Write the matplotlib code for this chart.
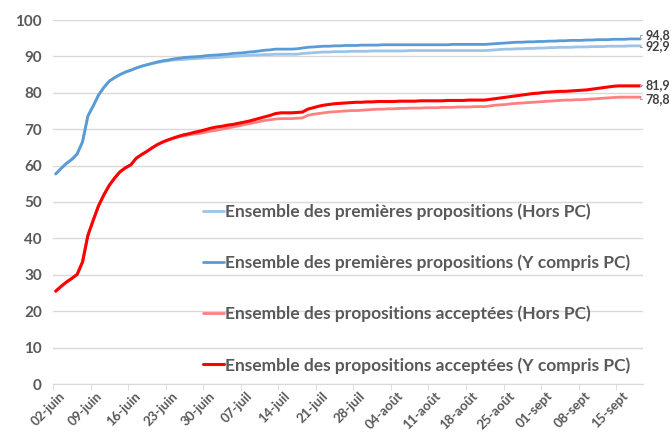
import numpy as np
import matplotlib
matplotlib.use('Agg')
from matplotlib import pyplot as plt
from matplotlib import transforms

# daily values, 02-juin -> 19-sept
premieres_y_compris = [
    57.7, 59.2, 60.6, 61.7, 63.2, 66.5, 73.6, 76.4, 79.4, 81.5,
    83.2, 84.2, 85.0, 85.7, 86.2, 86.8, 87.3, 87.7, 88.1, 88.5,
    88.8, 89.0, 89.3, 89.5, 89.7, 89.8, 89.9, 90.0, 90.2, 90.3,
    90.4, 90.5, 90.6, 90.8, 90.9, 91.0, 91.2, 91.3, 91.5, 91.7,
    91.8, 92.0, 92.0, 92.0, 92.0, 92.1, 92.3, 92.5, 92.6, 92.7,
    92.8, 92.8, 92.9, 92.9, 93.0, 93.0, 93.0, 93.1, 93.1, 93.1,
    93.1, 93.2, 93.2, 93.2, 93.2, 93.2, 93.2, 93.2, 93.2, 93.2,
    93.2, 93.2, 93.2, 93.2, 93.3, 93.3, 93.3, 93.3, 93.3, 93.3,
    93.3, 93.4, 93.5, 93.6, 93.7, 93.8, 93.9, 93.9, 94.0, 94.0,
    94.1, 94.1, 94.2, 94.2, 94.3, 94.3, 94.4, 94.4, 94.4, 94.5,
    94.5, 94.6, 94.6, 94.6, 94.7, 94.7, 94.7, 94.8, 94.8, 94.8,
]
premieres_hors = [
    57.7, 59.2, 60.6, 61.7, 63.2, 66.5, 73.6, 76.4, 79.4, 81.5,
    83.2, 84.2, 85.0, 85.7, 86.2, 86.8, 87.3, 87.7, 88.0, 88.3,
    88.6, 88.8, 89.0, 89.1, 89.2, 89.3, 89.4, 89.5, 89.6, 89.6,
    89.7, 89.8, 89.9, 90.0, 90.1, 90.2, 90.3, 90.4, 90.4, 90.5,
    90.5, 90.6, 90.6, 90.6, 90.6, 90.6, 90.8, 90.9, 91.0, 91.1,
    91.2, 91.2, 91.3, 91.3, 91.3, 91.4, 91.4, 91.4, 91.4, 91.5,
    91.5, 91.5, 91.5, 91.5, 91.5, 91.5, 91.6, 91.6, 91.6, 91.6,
    91.6, 91.6, 91.6, 91.6, 91.6, 91.6, 91.6, 91.6, 91.6, 91.6,
    91.6, 91.7, 91.8, 91.9, 92.0, 92.0, 92.1, 92.1, 92.2, 92.2,
    92.3, 92.3, 92.4, 92.4, 92.5, 92.5, 92.5, 92.6, 92.6, 92.6,
    92.7, 92.7, 92.7, 92.8, 92.8, 92.8, 92.8, 92.9, 92.9, 92.9,
]
acceptees_y_compris = [
    25.5, 26.8, 28.0, 29.0, 30.1, 33.5, 40.8, 45.0, 49.0, 52.0,
    54.6, 56.6, 58.3, 59.4, 60.2, 62.0, 63.0, 63.9, 64.9, 65.8,
    66.5, 67.1, 67.6, 68.1, 68.5, 68.8, 69.2, 69.5, 69.9, 70.3,
    70.6, 70.8, 71.1, 71.3, 71.6, 71.9, 72.2, 72.6, 73.0, 73.4,
    73.8, 74.3, 74.5, 74.5, 74.5, 74.6, 74.7, 75.5, 75.9, 76.3,
    76.6, 76.8, 77.0, 77.1, 77.2, 77.3, 77.4, 77.4, 77.5, 77.5,
    77.6, 77.6, 77.6, 77.6, 77.7, 77.7, 77.7, 77.7, 77.8, 77.8,
    77.8, 77.8, 77.8, 77.9, 77.9, 77.9, 77.9, 78.0, 78.0, 78.0,
    78.0, 78.2, 78.4, 78.6, 78.8, 79.0, 79.2, 79.4, 79.6, 79.8,
    79.9, 80.1, 80.2, 80.3, 80.4, 80.4, 80.5, 80.6, 80.7, 80.8,
    81.0, 81.2, 81.4, 81.6, 81.8, 81.9, 81.9, 81.9, 81.9, 81.9,
]
acceptees_hors = [
    25.5, 26.8, 28.0, 29.0, 30.1, 33.5, 40.8, 45.0, 49.0, 52.0,
    54.6, 56.6, 58.3, 59.4, 60.2, 62.0, 63.0, 63.9, 64.9, 65.8,
    66.5, 67.0, 67.5, 67.9, 68.2, 68.5, 68.7, 68.9, 69.2, 69.5,
    69.7, 70.0, 70.3, 70.6, 70.9, 71.2, 71.5, 71.8, 72.1, 72.4,
    72.6, 72.8, 72.9, 72.9, 72.9, 73.0, 73.1, 73.8, 74.1, 74.3,
    74.5, 74.7, 74.8, 74.9, 75.0, 75.1, 75.1, 75.2, 75.3, 75.4,
    75.5, 75.5, 75.6, 75.6, 75.7, 75.7, 75.8, 75.8, 75.8, 75.9,
    75.9, 75.9, 76.0, 76.0, 76.0, 76.1, 76.1, 76.1, 76.2, 76.2,
    76.2, 76.4, 76.6, 76.7, 76.8, 77.0, 77.1, 77.2, 77.3, 77.4,
    77.5, 77.6, 77.7, 77.8, 77.9, 78.0, 78.0, 78.1, 78.1, 78.2,
    78.3, 78.4, 78.5, 78.6, 78.7, 78.8, 78.8, 78.8, 78.8, 78.8,
]

tick_labels = ['02-juin', '09-juin', '16-juin', '23-juin', '30-juin',
               '07-juil', '14-juil', '21-juil', '28-juil', '04-août',
               '11-août', '18-août', '25-août', '01-sept', '08-sept',
               '15-sept']

series_names = ['Ensemble des premières propositions (Hors PC)',
                'Ensemble des premières propositions (Y compris PC)',
                'Ensemble des propositions acceptées (Hors PC)',
                'Ensemble des propositions acceptées (Y compris PC)']
end_labels = ['92,9', '94,8', '78,8', '81,9']

gray = '#595959'
plt.rcParams['font.family'] = ['Lato', 'DejaVu Sans']

fig = plt.figure(figsize=(6.71, 4.32), dpi=100)
ax = fig.add_axes([53/671, 1 - 384/432, (643 - 53)/671, (384 - 20)/432])

days = np.arange(len(premieres_y_compris))
series = [premieres_hors, premieres_y_compris, acceptees_hors, acceptees_y_compris]
colors = ['#9dc3e6', '#5b9bd5', '#ff8080', '#ff0000']
widths = [2.0, 2.0, 2.0, 2.2]
for vals, c, w, name in zip(series, colors, widths, series_names):
    ax.plot(days, vals, color=c, lw=w, label=name, solid_capstyle='round')

ax.set_xlim(-0.5, len(days) - 0.5)
ax.set_ylim(0, 100)
ax.set_yticks(np.arange(0, 101, 10))
ax.grid(axis='y', color='#d9d9d9', lw=1)
ax.set_axisbelow(True)
for s in ['left', 'right', 'top']:
    ax.spines[s].set_visible(False)
ax.spines['bottom'].set_color('#d9d9d9')
ax.tick_params(axis='y', length=0, pad=8, labelsize=11, labelcolor=gray)

# tick marks on week boundaries, labels a bit to the right
ax.set_xticks(np.arange(len(tick_labels)) * 7 - 0.5, minor=True)
ax.tick_params(axis='x', which='minor', length=4, color='#d9d9d9')
ax.set_xticks(np.arange(len(tick_labels)) * 7)
ax.set_xticklabels(tick_labels, rotation=45, ha='right', rotation_mode='anchor')
ax.tick_params(axis='x', which='major', length=0, labelsize=9.5, labelcolor=gray, pad=4)
shift = transforms.ScaledTranslation(3/100, 0, fig.dpi_scale_trans)
for lab in ax.get_xticklabels():
    lab.set_transform(lab.get_transform() + shift)
for lab in ax.get_xticklabels() + ax.get_yticklabels():
    lab.set_fontweight('bold')

# end labels with small leaders
offsets = [-0.5, 2.5, -1.5, 0.5]
for vals, txt, off in zip(series, end_labels, offsets):
    last = vals[-1]
    ax.annotate(txt, xy=(days[-1], last), xytext=(3.5, off), textcoords='offset points',
                va='center', ha='left', fontsize=9, fontweight='bold', color='#404040',
                annotation_clip=False,
                arrowprops=dict(arrowstyle='-', color='#a6a6a6', lw=0.8,
                                shrinkA=0, shrinkB=0, connectionstyle='angle,angleA=0,angleB=90,rad=0'))

leg = ax.legend(loc='upper left', bbox_to_anchor=(0.254, 0.497), frameon=False,
                borderpad=0, borderaxespad=0,
                handlelength=1.2, handletextpad=0.1, labelspacing=2.0,
                prop={'weight': 'bold', 'size': 12.5})
for t in leg.get_texts():
    t.set_color(gray)

fig.savefig('out.png', dpi=100)
